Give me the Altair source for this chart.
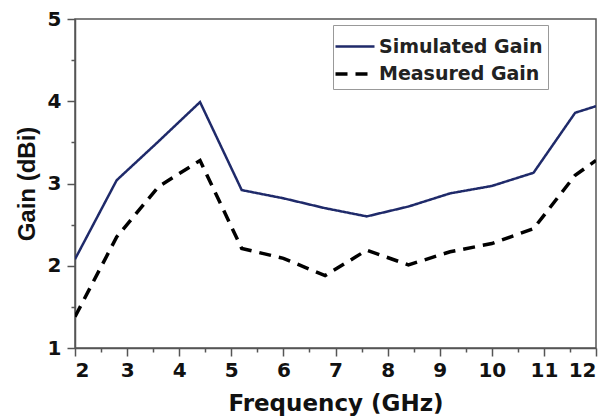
import altair as alt
import pandas as pd

freq = [2.0, 2.8, 3.6, 4.4, 5.2, 6.0, 6.8, 7.6, 8.4, 9.2, 10.0, 10.8, 11.6, 12.0]
simulated = [2.08, 3.04, 3.51, 3.99, 2.92, 2.82, 2.70, 2.60, 2.72, 2.88, 2.97, 3.13, 3.86, 3.94]
measured = [1.38, 2.35, 2.96, 3.28, 2.21, 2.09, 1.88, 2.19, 2.01, 2.17, 2.27, 2.45, 3.10, 3.28]
series_names = ["Simulated Gain", "Measured Gain"]
x_major = list(range(2, 13))
x_minor = [2.5 + i for i in range(10)]
y_major = [1, 2, 3, 4, 5]
y_minor = [1.5, 2.5, 3.5, 4.5]

rows = []
for f, s in zip(freq, simulated):
    rows.append({"freq": f, "gain": s, "series": series_names[0]})
for f, m in zip(freq, measured):
    rows.append({"freq": f, "gain": m, "series": series_names[1]})
df = pd.DataFrame(rows)

font = "DejaVu Sans"
xscale = alt.Scale(domain=[2, 12], nice=False, zero=False)
yscale = alt.Scale(domain=[1, 5], nice=False, zero=False)

main = alt.Chart(df).mark_line(clip=True).encode(
    x=alt.X("freq:Q", title="Frequency (GHz)", scale=xscale,
            axis=alt.Axis(values=x_major, grid=False, format="d", tickSize=8,
                          labelOverlap=False, labelPadding=4, titlePadding=12,
                          titleFontSize=23)),
    y=alt.Y("gain:Q", title="Gain (dBi)", scale=yscale,
            axis=alt.Axis(values=y_major, grid=False, format="d", tickSize=8,
                          labelOverlap=False, labelPadding=6, titlePadding=8,
                          titleFont="Liberation Sans", titleFontSize=24)),
    color=alt.Color("series:N", title=None,
                    scale=alt.Scale(domain=series_names, range=["#1f2a6a", "#000000"]),
                    legend=alt.Legend(orient="none", legendX=258, legendY=6,
                                      symbolType="M-1.3,0H1.3", symbolSize=900,
                                      symbolStrokeWidth=3, labelFont=font,
                                      labelFontSize=19, labelFontWeight="bold",
                                      labelColor="#222", strokeColor="#999",
                                      labelLimit=400,
                                      padding=5, rowPadding=0, labelOffset=7)),
    strokeDash=alt.StrokeDash("series:N", title=None,
                              scale=alt.Scale(domain=series_names, range=[[1, 0], [12, 8]]),
                              legend=None),
    strokeWidth=alt.StrokeWidth("series:N",
                                scale=alt.Scale(domain=series_names, range=[2.5, 3.5]),
                                legend=None),
)

minor = alt.Chart(df).mark_line(opacity=0).encode(
    x=alt.X("freq:Q", title=None, scale=xscale,
            axis=alt.Axis(orient="bottom", values=x_minor, grid=False, labels=False,
                          tickSize=4, domain=False)),
    y=alt.Y("gain:Q", title=None, scale=yscale,
            axis=alt.Axis(orient="left", values=y_minor, grid=False, labels=False,
                          tickSize=4, domain=False)),
    detail="series:N",
)

chart = alt.layer(main, minor).resolve_axis(
    x="independent", y="independent"
).properties(
    width=521, height=329,
    autosize=alt.AutoSizeParams(type="none"),
    padding={"left": 75, "top": 19, "right": 17, "bottom": 71},
).configure_view(
    stroke="#555", strokeWidth=1.5
).configure_axis(
    domainColor="#555", domainWidth=1.5, tickColor="#555", tickWidth=1.5,
    labelFont=font, labelFontSize=20, labelFontWeight="bold", labelColor="#111",
    titleFont=font, titleFontSize=23, titleFontWeight="bold", titleColor="#111",
)

chart.save("out.html", embed_options={"renderer": "svg", "actions": False})
